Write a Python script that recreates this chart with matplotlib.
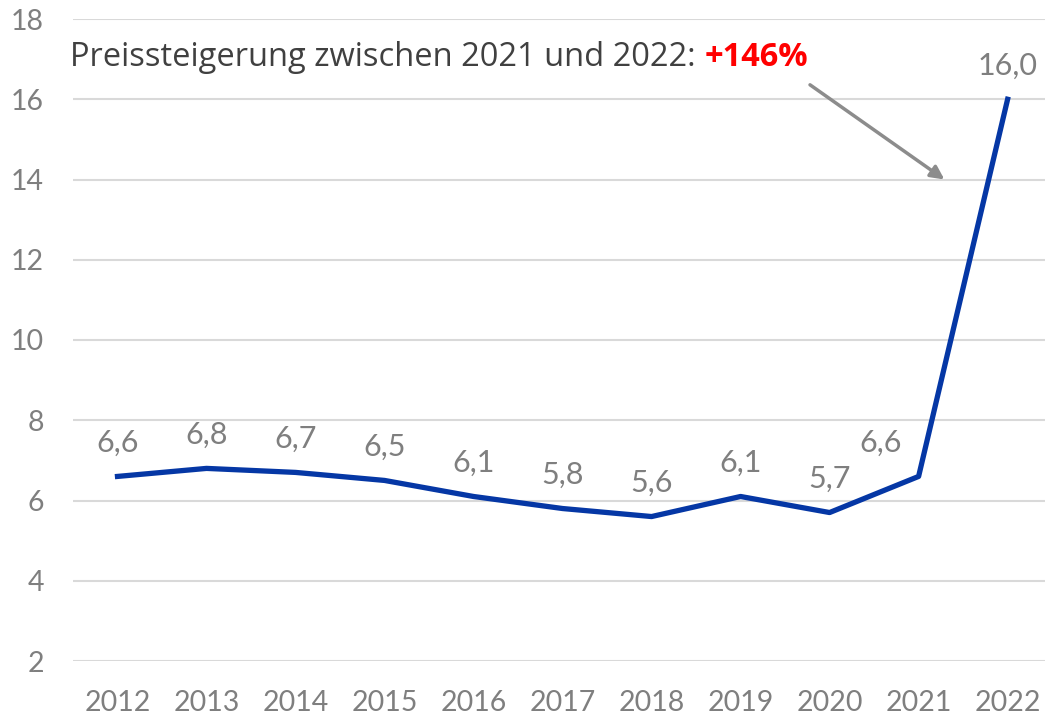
import matplotlib.pyplot as plt

plt.rcParams['font.family'] = ['Lato', 'DejaVu Sans']

years = ['2012', '2013', '2014', '2015', '2016', '2017', '2018', '2019', '2020', '2021', '2022']
prices = [6.6, 6.8, 6.7, 6.5, 6.1, 5.8, 5.6, 6.1, 5.7, 6.6, 16.0]
yticks = [2, 4, 6, 8, 10, 12, 14, 16, 18]

gray = '#7f7f7f'
blue = '#0537a5'

fig = plt.figure(figsize=(10.45, 7.18), dpi=100)
ax = fig.add_axes([73 / 1045, 57 / 718, 972 / 1045, 642 / 718])

x = list(range(len(years)))
ax.plot(x, prices, color=blue, lw=3.8, solid_joinstyle='round', zorder=3)

ax.set_xlim(-0.5, 10.42)
ax.set_ylim(2, 18)
ax.set_yticks(yticks)
ax.set_yticklabels([str(v) for v in yticks])
ax.set_xticks(x)
ax.set_xticklabels(years)
ax.tick_params(length=0, labelsize=20.5, colors=gray)
ax.tick_params(axis='y', pad=21)
ax.tick_params(axis='x', pad=21)
for s in ax.spines.values():
    s.set_visible(False)
ax.grid(axis='y', color='#d9d9d9', lw=1.5)
ax.set_axisbelow(True)

# data labels
for i, v in enumerate(prices):
    dx = 0
    if years[i] == '2021':
        dx = -27
    ax.annotate(f'{v:.1f}'.replace('.', ','), (i, v), xytext=(dx, 14),
                textcoords='offset points', ha='center', va='bottom',
                fontsize=22, color=gray)

# arrow
ax.annotate('', xy=(9.29, 14.0), xytext=(7.78, 16.36),
            arrowprops=dict(arrowstyle='-|>,head_length=0.8,head_width=0.4',
                            color='#8c8c8c', lw=2.5, shrinkA=0, shrinkB=0),
            annotation_clip=False)

# headline
t1 = fig.text(70 / 1045, 1 - 58 / 718, 'Preissteigerung zwischen 2021 und 2022: ',
              fontsize=23.5, color='#404040', va='center', ha='left', family='Open Sans')
fig.canvas.draw()
bb = t1.get_window_extent()
fig.text(bb.x1 / fig.bbox.width, 1 - 58 / 718, '+146%', fontsize=23.5,
         color='#ff0000', fontweight='bold', va='center', ha='left', family='Open Sans')

fig.savefig('out.png', dpi=100)
